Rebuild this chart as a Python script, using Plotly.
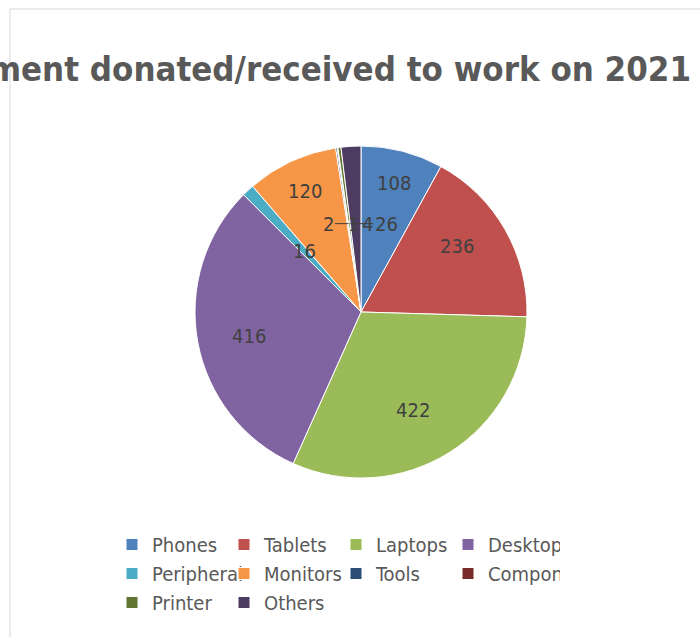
import math
import plotly.graph_objects as go

categories = ["Phones", "Tablets", "Laptops", "Desktops", "Peripheral",
              "Monitors", "Tools", "Components", "Printer", "Others"]
values = [108, 236, 422, 416, 16, 120, 2, 1, 4, 26]
colors = ["#4F81BD", "#C0504D", "#9BBB59", "#8064A2", "#4BACC6",
          "#F79646", "#2C4D75", "#772C2A", "#5F7530", "#4D3B62"]
title_text = "Equipment donated/received to work on 2021"

W, H = 700, 637
ML, MR, MB = 120, 160, 120   # plot area = x 120..540, y 0..517
GW, GH = W - ML - MR, H - MB
cx, cy, r = 361, 312, 166    # pie centre / radius in pixels
FONT = "DejaVu Sans Condensed, DejaVu Sans"


def px(x):
    return (x - ML) / GW


def py(y):
    return (GH - y) / GH


fig = go.Figure(go.Pie(
    labels=categories,
    values=values,
    sort=False,
    direction="clockwise",
    rotation=0,
    marker=dict(colors=colors, line=dict(color="#FFFFFF", width=1)),
    textinfo="none",
    domain=dict(x=[px(cx - r), px(cx + r)], y=[py(cy + r), py(cy - r)]),
    hoverinfo="label+value",
))

# data labels placed along each slice's mid-angle (computed from the values)
total = sum(values)
cum = 0
base = []
for v in values:
    mid = (cum + v / 2) / total * 2 * math.pi
    cum += v
    frac = 0.80 if v / total > 0.05 else 0.5
    base.append((cx + math.sin(mid) * r * frac, cy - math.cos(mid) * r * frac))

# resolve overlaps: cluster small labels whose anchors are close, lay them side by side
small = sorted([i for i, v in enumerate(values) if v / total <= 0.05], key=lambda i: base[i][0])
clusters = []
for i in small:
    if clusters and abs(base[i][0] - base[clusters[-1][-1]][0]) < 30 and \
            abs(base[i][1] - base[clusters[-1][-1]][1]) < 30:
        clusters[-1].append(i)
    else:
        clusters.append([i])

char_w = 11.5
label_pos = {}
for cl in clusters:
    if len(cl) == 1:
        continue
    widths = [len(str(values[i])) * char_w for i in cl]
    gaps = [14] + [2] * (len(cl) - 2)
    span = sum(widths) + sum(gaps)
    mx = sum(base[i][0] for i in cl) / len(cl) + 9
    my = sum(base[i][1] for i in cl) / len(cl) - 6
    xx = mx - span / 2
    for k, i in enumerate(cl):
        label_pos[i] = (xx + widths[k] / 2, my)
        xx += widths[k] + (gaps[k] if k < len(gaps) else 0)

annotations = []
for i, v in enumerate(values):
    bx, by = base[i]
    font = dict(family=FONT, size=20, color="#404040")
    if i in label_pos:
        lx, ly = label_pos[i]
        dx, dy = lx - bx, ly - by
        if abs(dx) > 12:
            # leader line drawn horizontally from the label to the slice
            annotations.append(dict(
                x=px(bx), y=py(ly), xref="paper", yref="paper",
                text=str(v), showarrow=True, ax=dx, ay=0, standoff=0,
                arrowhead=0, arrowwidth=1, arrowcolor="#404040", font=font,
            ))
        else:
            annotations.append(dict(
                x=px(lx), y=py(ly), xref="paper", yref="paper",
                text=str(v), showarrow=False, font=font,
            ))
    else:
        annotations.append(dict(
            x=px(bx), y=py(by), xref="paper", yref="paper",
            text=str(v), showarrow=False, font=font,
        ))

fig.update_layout(
    width=W, height=H,
    margin=dict(l=ML, r=MR, t=0, b=MB, autoexpand=False),
    paper_bgcolor="white",
    plot_bgcolor="white",
    title=dict(
        text="<b>" + title_text + "</b>",
        font=dict(family=FONT, size=34.5, color="#595959"),
        x=691 / W, xanchor="right", xref="container",
        y=1 - 69 / H, yanchor="middle", yref="container",
    ),
    legend=dict(
        orientation="h",
        x=px(112), xanchor="left",
        y=py(525), yanchor="top",
        font=dict(family=FONT, size=20, color="#595959"),
        entrywidth=67,
        traceorder="normal",
    ),
    annotations=annotations,
    shapes=[
        dict(type="line", xref="paper", yref="paper", x0=px(10), x1=px(W), y0=py(9), y1=py(9),
             line=dict(color="#D9D9D9", width=1)),
        dict(type="line", xref="paper", yref="paper", x0=px(10), x1=px(10), y0=py(H), y1=py(9),
             line=dict(color="#D9D9D9", width=1)),
    ],
)

fig.write_html("out.html", config={"displayModeBar": False},
               post_script="document.body.style.margin='0px';")
